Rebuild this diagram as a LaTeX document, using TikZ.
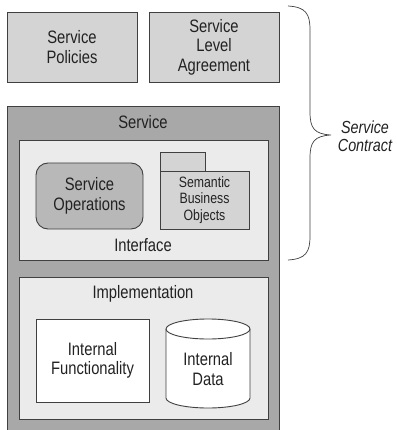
\documentclass[tikz,border=0pt]{standalone}
\usepackage{fontspec}
\setmainfont{Liberation Sans}[FakeStretch=0.82]
\usetikzlibrary{shapes.geometric}
\definecolor{lightbox}{HTML}{D4D4D4}
\definecolor{darkbox}{HTML}{A8A8A8}
\definecolor{paleBox}{HTML}{EBEBEB}
\definecolor{opsfill}{HTML}{B8B8B8}
\definecolor{edge}{HTML}{404040}
\definecolor{txt}{HTML}{222222}
\begin{document}
\begin{tikzpicture}[x=1pt,y=-1pt,
  box/.style={draw=edge,line width=0.9pt},
  lbl/.style={font=\fontsize{18}{19.5}\selectfont,text=txt,align=center,inner sep=0pt},
  slbl/.style={font=\fontsize{15}{16.5}\selectfont,text=txt,align=center,inner sep=0pt}]
\useasboundingbox (0,0) rectangle (396,430);
% top boxes
\draw[box,fill=lightbox] (7,12) rectangle (137,82);
\node[lbl] (pol) at (72,47) {Service\\Policies};
\draw[box,fill=lightbox] (149,12) rectangle (279,82);
\node[lbl] (sla) at (214,47) {Service\\Level\\Agreement};
% service
\draw[box,fill=darkbox] (7,106) rectangle (279,432);
\node[lbl] (svc) at (143,122) {Service};
% interface
\draw[box,fill=paleBox] (19,140) rectangle (268,260);
\draw[box,fill=opsfill,rounded corners=12pt] (36,163) rectangle (143,229);
\node[lbl] (ops) at (89.5,196) {Service\\Operations};
\draw[box,fill=lightbox] (160,152) rectangle (205,171);
\draw[box,fill=lightbox] (160,171) rectangle (249,229);
\node[slbl] (sbo) at (204.5,200) {Semantic\\Business\\Objects};
\node[lbl] (intf) at (143,245) {Interface};
% implementation
\draw[box,fill=paleBox] (19,277) rectangle (268,419);
\node[lbl] (impl) at (143,294) {Implementation};
\draw[box,fill=white] (36,319) rectangle (149,402);
\node[lbl] (ifun) at (92.5,360.5) {Internal\\Functionality};
% cylinder
\draw[box,fill=white] (166,329) -- (166,398) arc[start angle=180,end angle=360,x radius=42,y radius=-10]
  -- (250,329) arc[start angle=0,end angle=180,x radius=42,y radius=-10] -- cycle;
\draw[box] (166,329) arc[start angle=180,end angle=360,x radius=42,y radius=-10];
\node[lbl] (idata) at (208,369) {Internal\\Data};
% brace
\draw[draw=edge,line width=0.7pt] (288,6) .. controls (306,7) and (310,14) .. (310,30)
  -- (310,112) .. controls (310,128) and (314,134) .. (331,135)
  .. controls (314,136) and (310,142) .. (310,158)
  -- (310,236) .. controls (310,252) and (306,259) .. (288,260);
\node[lbl,font=\fontsize{17.5}{17.5}\itshape] (sc) at (365,136) {Service\\Contract};
\end{tikzpicture}
\end{document}
